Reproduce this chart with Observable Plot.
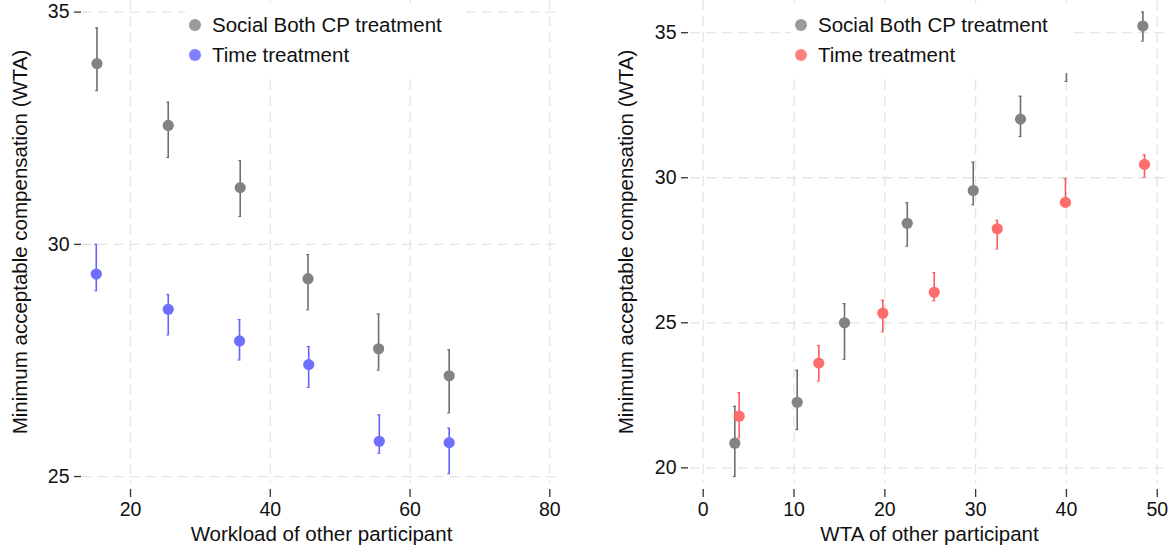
<!DOCTYPE html>
<html>
<head>
<meta charset="utf-8">
<script src="https://cdn.jsdelivr.net/npm/d3@7"></script>
<script src="https://cdn.jsdelivr.net/npm/@observablehq/plot@0.6"></script>
<style>
  html, body { margin: 0; padding: 0; background: #fff; }
  #wrap { position: relative; width: 1175px; height: 556px; font-family: "Liberation Sans", Arial, Helvetica, sans-serif; }
  #wrap svg { position: absolute; top: 0; font-family: "Liberation Sans", Arial, Helvetica, sans-serif; }
  .legend { position: absolute; background: #fff; top: 3px; height: 70px; }
  .legend .row { position: absolute; left: 0; height: 20px; display: flex; align-items: center; font-size: 20.5px; color: #111; white-space: nowrap; }
  .legend .dot { width: 12px; height: 12px; border-radius: 50%; margin-left: 4px; margin-right: 11px; }
</style>
</head>
<body>
<div id="wrap"></div>
<script>
// ---- Left panel: workload of other participant ----
const leftSocialX    = [15.2, 25.4, 35.7, 45.4, 55.5, 65.6];
const leftSocialMean = [33.89, 32.56, 31.22, 29.26, 27.75, 27.17];
const leftSocialLow  = [33.31, 31.87, 30.60, 28.59, 27.29, 26.37];
const leftSocialHigh = [34.66, 33.06, 31.80, 29.78, 28.50, 27.73];

const leftTimeX    = [15.1, 25.4, 35.6, 45.5, 55.6, 65.6];
const leftTimeMean = [29.36, 28.60, 27.92, 27.41, 25.76, 25.73];
const leftTimeLow  = [29.00, 28.05, 27.51, 26.92, 25.50, 25.06];
const leftTimeHigh = [30.00, 28.92, 28.38, 27.80, 26.33, 26.04];

// ---- Right panel: WTA of other participant ----
const rightSocialX    = [3.48, 10.35, 15.56, 22.47, 29.74, 34.94, 40.0, 48.42];
const rightSocialMean = [20.85, 22.26, 25.00, 28.43, 29.56, 32.02, 34.10, 35.23];
const rightSocialLow  = [19.70, 21.32, 23.74, 27.64, 29.07, 31.42, 33.32, 34.71];
const rightSocialHigh = [22.12, 23.36, 25.66, 29.14, 30.54, 32.81, 34.90, 35.71];

const rightTimeX    = [3.96, 12.73, 19.78, 25.44, 32.38, 39.89, 48.6];
const rightTimeMean = [21.78, 23.61, 25.33, 26.05, 28.24, 29.15, 30.46];
const rightTimeLow  = [21.03, 22.99, 24.69, 25.76, 27.54, 29.10, 30.02];
const rightTimeHigh = [22.59, 24.22, 25.78, 26.73, 28.53, 29.97, 30.79];

const leftXTicks = [20, 40, 60, 80];
const leftYTicks = [25, 30, 35];
const rightXTicks = [0, 10, 20, 30, 40, 50];
const rightYTicks = [20, 25, 30, 35];

const seriesNames = ["Social Both CP treatment", "Time treatment"];
const yTitle = "Minimum acceptable compensation (WTA)";
const leftXTitle = "Workload of other participant";
const rightXTitle = "WTA of other participant";

function rows(xs, m, lo, hi) {
  return xs.map((x, i) => ({x, mean: m[i], low: lo[i], high: hi[i]}));
}

const gridStyle = {stroke: "#e4e4e4", strokeOpacity: 1, strokeWidth: 1.3, strokeDasharray: "10,6"};

function seriesMarks(data, pointColor, barColor, cap) {
  return [
    Plot.ruleX(data, {x: "x", y1: "low", y2: "high", stroke: barColor, strokeWidth: 1.6}),
    Plot.ruleY(data, {y: "low", x1: d => d.x - cap, x2: d => d.x + cap, stroke: barColor, strokeWidth: 1.2}),
    Plot.ruleY(data, {y: "high", x1: d => d.x - cap, x2: d => d.x + cap, stroke: barColor, strokeWidth: 1.2}),
    Plot.dot(data, {x: "x", y: "mean", r: 5.6, fill: pointColor, stroke: "none"})
  ];
}

function panel({width, marginLeft, marginRight, xDomain, yDomain, xTicks, yTicks, xTitle, yDx, titleDx, series}) {
  return Plot.plot({
    width, height: 556,
    marginTop: 0, marginBottom: 73, marginLeft, marginRight,
    style: {fontSize: "19.5px", fontFamily: "Liberation Sans, Arial, sans-serif", color: "#111", background: "transparent", overflow: "visible"},
    x: {domain: xDomain},
    y: {domain: yDomain},
    marks: [
      Plot.gridX(xTicks, gridStyle),
      Plot.gridY(yTicks, gridStyle),
      ...series,
      Plot.axisX(xTicks, {tickSize: 8, tickPadding: 5, dy: 6, stroke: "#333", strokeWidth: 1.3, fill: "#111", fontSize: 19.5, label: null}),
      Plot.axisY(yTicks, {tickSize: 7, tickPadding: 5, dx: yDx, stroke: "#333", strokeWidth: 1.3, fill: "#111", fontSize: 19.5, label: null}),
      Plot.text([xTitle], {frameAnchor: "bottom", textAnchor: "middle", dy: 57, fontSize: 20.5, fill: "#111", text: d => d}),
      Plot.text([yTitle], {frameAnchor: "left", textAnchor: "middle", rotate: -90, dx: titleDx, fontSize: 20.5, fill: "#111", text: d => d})
    ]
  });
}

const left = panel({
  width: 600, marginLeft: 82, marginRight: 40,
  xDomain: [13.13, 81.53], yDomain: [24.85, 35.25],
  xTicks: leftXTicks, yTicks: leftYTicks, xTitle: leftXTitle, yDx: -1, titleDx: -62,
  series: [
    ...seriesMarks(rows(leftSocialX, leftSocialMean, leftSocialLow, leftSocialHigh), "#838383", "#6e6e6e", 0.2),
    ...seriesMarks(rows(leftTimeX, leftTimeMean, leftTimeLow, leftTimeHigh), "#6e6eff", "#6262ff", 0.2)
  ]
});

const right = panel({
  width: 575, marginLeft: 90, marginRight: 7,
  xDomain: [-1.40, 51.24], yDomain: [19.46, 36.11],
  xTicks: rightXTicks, yTicks: rightYTicks, xTitle: rightXTitle, yDx: -2, titleDx: -64,
  series: [
    ...seriesMarks(rows(rightSocialX, rightSocialMean, rightSocialLow, rightSocialHigh), "#838383", "#6e6e6e", 0.16),
    ...seriesMarks(rows(rightTimeX, rightTimeMean, rightTimeLow, rightTimeHigh), "#ff6c6c", "#ff5a5a", 0.16)
  ]
});

const wrap = document.getElementById("wrap");
left.style.left = "0px";
right.style.left = "600px";
wrap.appendChild(left);
wrap.appendChild(right);

function legend(leftPx, width, colors) {
  const box = document.createElement("div");
  box.className = "legend";
  box.style.left = leftPx + "px";
  box.style.width = width + "px";
  seriesNames.forEach((name, i) => {
    const row = document.createElement("div");
    row.className = "row";
    row.style.top = (12 + i * 30) + "px";
    const dot = document.createElement("span");
    dot.className = "dot";
    dot.style.background = colors[i];
    const label = document.createElement("span");
    label.textContent = name;
    row.appendChild(dot);
    row.appendChild(label);
    box.appendChild(row);
  });
  wrap.appendChild(box);
}
legend(185, 280, ["#9a9a9a", "#8080ff"]);
legend(791, 281, ["#9a9a9a", "#ff8080"]);
</script>
</body>
</html>
